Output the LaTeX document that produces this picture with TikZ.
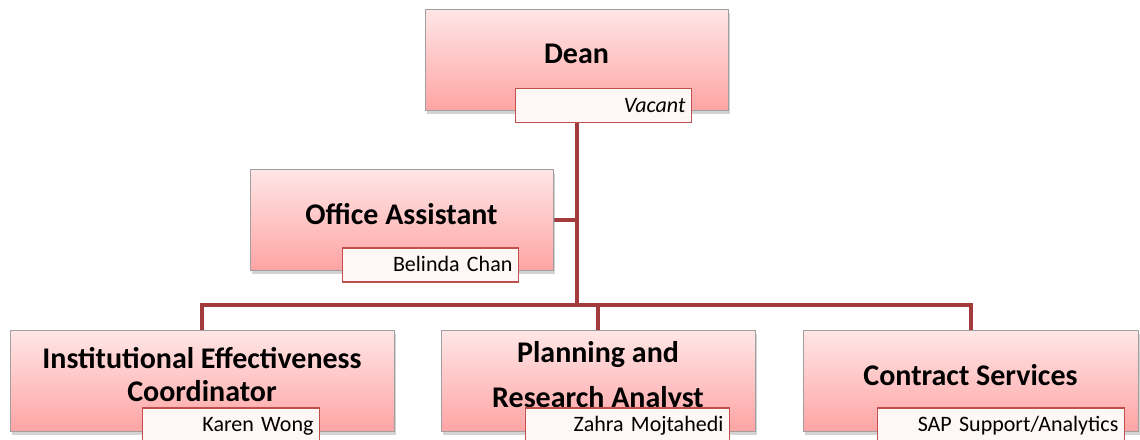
\documentclass[tikz,border=0pt]{standalone}
\usepackage{fontspec}
\setmainfont{Carlito}
\usetikzlibrary{shadows,backgrounds}

\definecolor{linkred}{HTML}{A33B3D}
\definecolor{boxtop}{HTML}{FFE6E6}
\definecolor{boxbot}{HTML}{FFA4A4}
\definecolor{namered}{HTML}{C0504D}
\definecolor{namefill}{HTML}{FFF6F6}

\tikzset{
  post/.style={draw=gray!75, line width=0.8pt, top color=boxtop, bottom color=boxbot,
    minimum height=101pt, align=center, text depth=13pt,
    font=\fontsize{30}{33}\selectfont\bfseries,
    drop shadow={shadow xshift=2pt, shadow yshift=-3pt, opacity=.35}},
  holder/.style={draw=namered, line width=1.2pt, fill=namefill, anchor=east,
    inner xsep=6pt, minimum height=34pt, align=right, text height=16pt, text depth=3pt,
    font=\fontsize{22}{26}\selectfont},
  link/.style={draw=linkred, line width=4pt}
}

\begin{document}
\begin{tikzpicture}[x=1pt, y=-1pt]
  \useasboundingbox (0,0) rectangle (1140,439);

  % positions
  \node[post, minimum width=303pt] (dean) at (576.5,60) {Dean};
  \node[post, minimum width=303pt] (office) at (401.5,220) {Office Assistant};
  \node[post, minimum width=384pt] (iec) at (202,381) {Institutional Effectiveness\\Coordinator};
  \node[post, minimum width=314pt] (planning) at (598,381) {Planning and\\[12pt]Research Analyst};
  \node[post, minimum width=335pt] (contract) at (970.5,381) {Contract Services};

  % people
  \node[holder, text width=164pt] (vacant) at (692,105.5) {\itshape Vacant};
  \node[holder, text width=164pt] (belinda) at (519,265) {Belinda Chan};
  \node[holder, text width=165pt] (karen) at (320,425) {Karen Wong};
  \node[holder, text width=192pt] (zahra) at (730,425) {Zahra Mojtahedi};
  \node[holder, text width=235pt] (sap) at (1125,425) {SAP Support/Analytics};

  % lines
  \coordinate (bus) at (0,305);
  \begin{scope}[on background layer]
    \draw[link] (dean.center) -- (dean.center |- bus);
    \draw[link] (office.east) -- (office.east -| dean.center);
    \draw[link] (iec.north) -- (iec.north |- bus) -- (contract.north |- bus) -- (contract.north);
    \draw[link] (planning.north) -- (planning.north |- bus);
  \end{scope}
\end{tikzpicture}
\end{document}
